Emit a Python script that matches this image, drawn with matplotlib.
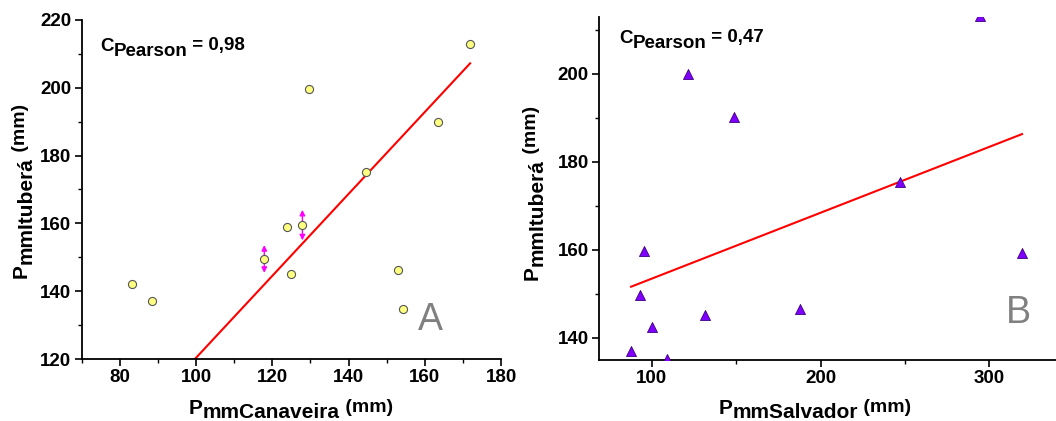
import numpy as np
import matplotlib
matplotlib.use("Agg")
import matplotlib.pyplot as plt
from matplotlib.transforms import IdentityTransform
from matplotlib.ticker import MultipleLocator

plt.rcParams['font.family'] = ['Liberation Sans', 'DejaVu Sans']
plt.rcParams['font.weight'] = 'bold'

# ---- data ----
ituberA = [142.0, 137.0, 149.5, 159.0, 145.1, 159.5, 199.6, 175.1, 146.3, 134.8, 189.9, 212.8]
canaveira = [83.2, 88.5, 117.9, 123.8, 124.9, 127.9, 129.5, 144.5, 153.1, 154.2, 163.5, 171.9]
err_x = [117.9, 127.9]
err_y = [149.5, 159.5]
err_v = [4.1, 4.5]
fitA_slope, fitA_intercept = 1.208, -0.44
fitA_range = [83.2, 171.9]
pearsonA = "0,98"

salvador = [87.8, 93.3, 95.4, 100.0, 109.1, 121.7, 131.7, 148.5, 187.8, 246.9, 294.4, 319.3]
ituberB = [137.0, 149.6, 159.7, 142.3, 135.1, 200.0, 145.2, 190.2, 146.5, 175.3, 213.2, 159.3]
fitB_slope, fitB_intercept = 0.150, 138.4
fitB_range = [87.8, 319.3]
pearsonB = "0,47"

W, H = 1056, 421
fig = plt.figure(figsize=(W / 100, H / 100), dpi=100)

def px_axes(l, r, t, b):
    return fig.add_axes([l / W, (H - b) / H, (r - l) / W, (b - t) / H])

def style(ax):
    for s in ['top', 'right']:
        ax.spines[s].set_visible(False)
    for s in ['left', 'bottom']:
        ax.spines[s].set_linewidth(1.3)
    ax.tick_params(which='major', direction='out', length=5, width=1.2,
                   labelsize=13.5, pad=2.5)
    ax.tick_params(which='minor', direction='out', length=3, width=1.0)
    for lab in ax.get_xticklabels() + ax.get_yticklabels():
        lab.set_fontweight('bold')

# ---- panel A ----
axA = px_axes(81.7, 501, 20, 359)
axA.set_xlim(70, 180)
axA.set_ylim(120, 220)
axA.xaxis.set_major_locator(MultipleLocator(20))
axA.xaxis.set_minor_locator(MultipleLocator(10))
axA.yaxis.set_major_locator(MultipleLocator(20))
axA.yaxis.set_minor_locator(MultipleLocator(10))
style(axA)
fxA = np.array(fitA_range)
axA.plot(fxA, fitA_slope * fxA + fitA_intercept, color='#ff0000', lw=1.5, zorder=2)
for x, y, e in zip(err_x, err_y, err_v):
    axA.annotate('', xy=(x, y + e), xytext=(x, y - e),
                 arrowprops=dict(arrowstyle='<|-|>', color='#ff00ff', lw=1.0,
                                 mutation_scale=8, shrinkA=0, shrinkB=0), zorder=3)
axA.scatter(canaveira, ituberA, s=34, facecolor='#ffff80', edgecolor='#555555',
            linewidth=0.8, zorder=4)

# ---- panel B ----
axB = px_axes(599.3, 1057, 16.7, 360)
axB.set_xlim(69, 340)
axB.set_ylim(134.9, 213.0)
axB.xaxis.set_major_locator(MultipleLocator(100))
axB.xaxis.set_minor_locator(MultipleLocator(50))
axB.yaxis.set_major_locator(MultipleLocator(20))
axB.yaxis.set_minor_locator(MultipleLocator(10))
style(axB)
fxB = np.array(fitB_range)
axB.plot(fxB, fitB_slope * fxB + fitB_intercept, color='#ff0000', lw=1.5, zorder=2)
axB.scatter(salvador, ituberB, s=52, marker='^', facecolor='#7f00ff',
            edgecolor='#3c0080', linewidth=0.6, zorder=4)

# ---- composed labels (subscripts same size, lowered) ----
renderer = fig.canvas.get_renderer()

def pieces(x0, y0_top, parts, vertical=False):
    y0 = H - y0_top
    pos = 0.0
    for s, size, shift in parts:
        if vertical:
            t = fig.text(x0 + shift, y0 + pos, s, rotation=90, rotation_mode='anchor',
                         ha='left', va='baseline', fontsize=size, fontweight='bold',
                         transform=IdentityTransform())
            pos += t.get_window_extent(renderer).height
        else:
            t = fig.text(x0 + pos, y0 - shift, s, ha='left', va='baseline',
                         fontsize=size, fontweight='bold', transform=IdentityTransform())
            pos += t.get_window_extent(renderer).width

LAB = [15, 15, 14]
# x labels
pieces(189, 414, [("P", LAB[0], 0), ("mmCanaveira", LAB[1], 4.5), (" (mm)", LAB[2], -2)])
pieces(719, 414, [("P", LAB[0], 0), ("mmSalvador", LAB[1], 4.5), (" (mm)", LAB[2], -2)])
# y labels
pieces(27, 278, [("P", LAB[0], 0), ("mmItuberá", LAB[1], 4.5), (" (mm)", LAB[2], -2)], vertical=True)
pieces(538, 280, [("P", LAB[0], 0), ("mmItuberá", LAB[1], 4.5), (" (mm)", LAB[2], -2)], vertical=True)
# Pearson annotations
pieces(100, 51, [("C", 13.5, 0), ("Pearson", 13.5, 5), (" = " + pearsonA, 13.5, -1)])
pieces(619, 43, [("C", 13.5, 0), ("Pearson", 13.5, 5), (" = " + pearsonB, 13.5, -1)])

# panel letters
fig.text(418 / W, (H - 330) / H, "A", fontsize=27, fontweight='normal', color='#808080',
         ha='left', va='baseline')
fig.text(1006 / W, (H - 323) / H, "B", fontsize=27, fontweight='normal', color='#808080',
         ha='left', va='baseline')

fig.savefig("out.png", dpi=100)
